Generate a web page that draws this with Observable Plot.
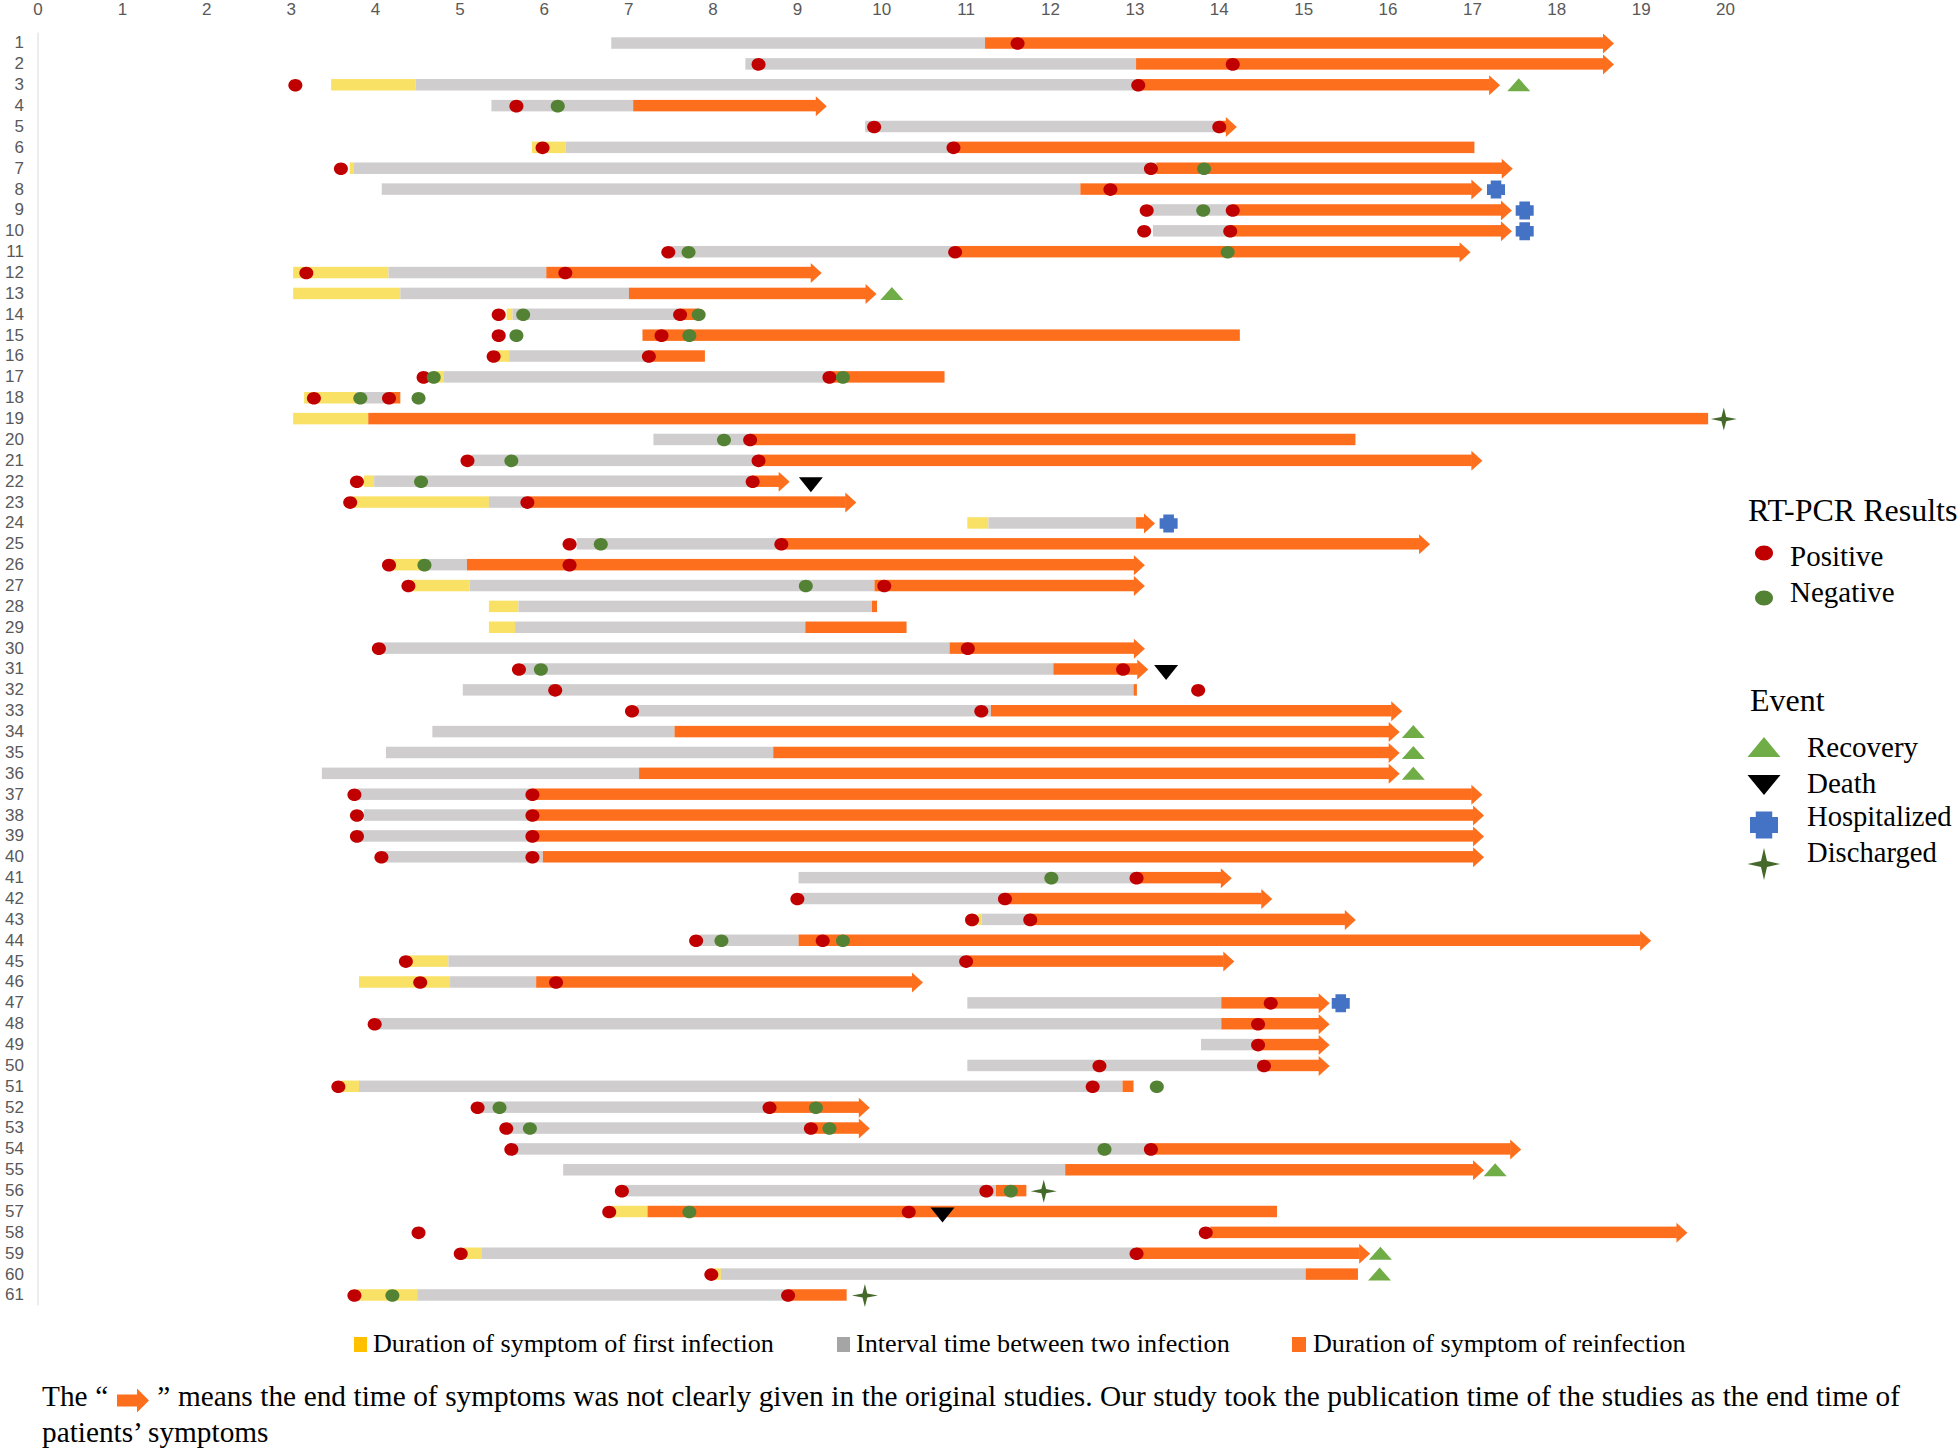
<!DOCTYPE html>
<html>
<head>
<meta charset="utf-8">
<script src="https://cdn.jsdelivr.net/npm/d3@7"></script>
<script src="https://cdn.jsdelivr.net/npm/@observablehq/plot@0.6"></script>
<style>
  html, body { margin: 0; padding: 0; background: #fff; }
  #page { position: relative; width: 1960px; height: 1449px; overflow: hidden; font-family: "Liberation Serif", serif; color: #000; }
  #page svg.chart { position: absolute; left: 0; top: 0; }
  .t { position: absolute; white-space: nowrap; line-height: 1; transform: translateY(-50%); }
  .sq { position: absolute; }
  .sym { position: absolute; overflow: visible; }
  #cap1 { position: absolute; left: 42px; top: 1397px; width: 1858px; font-size: 29.3px; line-height: 1; transform: translateY(-50%); text-align: justify; text-align-last: justify; white-space: nowrap; }
  #cap1 svg { vertical-align: -7px; margin: 0 1px; }
</style>
</head>
<body>
<div id="page"></div>
<script>
const rows = d3.range(1, 62);
const xTicks = [0,1,2,3,4,5,6,7,8,9,10,11,12,13,14,15,16,17,18,19,20];

// [patient, start, end] in the chart's x units
const firstInfection = [[3,3.48,4.48],[6,5.86,6.26],[7,3.70,3.75],[12,3.03,4.16],[13,3.03,4.30],[14,5.56,5.63],[16,5.44,5.59],[17,4.70,4.81],[18,3.16,3.78],[19,3.03,3.92],[22,3.87,3.99],[23,3.72,5.35],[24,11.02,11.27],[26,4.20,4.56],[27,4.43,5.12],[28,5.35,5.70],[29,5.35,5.66],[43,11.15,11.19],[45,4.40,4.87],[46,3.81,4.89],[51,3.60,3.81],[57,6.80,7.23],[59,5.05,5.26],[60,8.02,8.10],[61,3.78,4.50]];

const interval = [[1,6.80,11.23],[2,8.39,13.02],[3,4.48,13.02],[4,5.38,7.06],[5,9.81,14.0],[6,6.26,10.85],[7,3.75,13.26],[8,4.08,12.36],[9,13.2,14.16],[10,13.22,14.13],[11,7.5,10.87],[12,4.16,6.03],[13,4.30,7.01],[14,5.63,7.63],[16,5.59,7.24],[17,4.81,9.38],[18,3.78,4.16],[20,7.30,8.44],[21,5.15,8.54],[22,3.99,8.47],[23,5.35,5.80],[24,11.27,13.02],[25,6.39,8.81],[26,4.56,5.09],[27,5.12,9.92],[28,5.70,9.89],[29,5.66,9.10],[30,4.06,10.81],[31,5.75,12.04],[32,5.04,12.99],[33,7.1,11.30],[34,4.68,7.55],[35,4.13,8.72],[36,3.37,7.13],[37,3.8,5.86],[38,3.87,5.86],[39,3.79,5.86],[40,4.1,5.99],[41,9.02,13.02],[42,9.05,11.46],[43,11.19,11.76],[44,7.85,9.02],[45,4.87,11.0],[46,4.89,5.91],[47,11.02,14.03],[48,4.03,14.03],[49,13.79,14.46],[50,11.02,14.53],[51,3.81,12.86],[52,5.26,8.67],[53,5.6,9.16],[54,5.65,13.19],[55,6.23,12.18],[56,6.97,11.36],[59,5.26,13.02],[60,8.10,15.03],[61,4.50,8.89]];

const reinfection = [[1,11.23,18.56],[2,13.02,18.56],[3,13.02,17.21],[4,7.06,9.23],[5,14.0,14.09],[6,10.85,17.03],[7,13.26,17.36],[8,12.36,17.0],[9,14.16,17.35],[10,14.13,17.35],[11,10.87,16.86],[12,6.03,9.17],[13,7.01,9.82],[14,7.63,7.84],[15,7.17,14.25],[16,7.24,7.91],[17,9.38,10.75],[18,4.16,4.30],[19,3.92,19.8],[20,8.44,15.62],[21,8.54,17.0],[22,8.47,8.79],[23,5.80,9.58],[24,13.02,13.12],[25,8.81,16.38],[26,5.09,13.0],[27,9.92,13.0],[28,9.89,9.95],[29,9.10,10.30],[30,10.81,13.0],[31,12.04,13.04],[32,12.99,13.03],[33,11.30,16.05],[34,7.55,16.02],[35,8.72,16.02],[36,7.13,16.02],[37,5.86,17.0],[38,5.86,17.02],[39,5.86,17.02],[40,5.99,17.02],[41,13.02,14.03],[42,11.46,14.51],[43,11.76,15.50],[44,9.02,19.0],[45,11.0,14.06],[46,5.91,10.37],[47,14.03,15.19],[48,14.03,15.19],[49,14.46,15.19],[50,14.53,15.19],[51,12.86,12.99],[52,8.67,9.74],[53,9.16,9.74],[54,13.19,17.46],[55,12.18,17.02],[56,11.36,11.72],[57,7.23,14.69],[58,13.9,19.43],[59,13.02,15.67],[60,15.03,15.65],[61,8.89,9.59]];

// patients whose reinfection bar ends with an arrow head
const arrowRows = [1,2,3,4,5,7,8,9,10,11,12,13,21,22,23,24,25,26,27,30,31,33,34,35,36,37,38,39,40,41,42,43,44,45,46,47,48,49,50,52,53,54,55,58,59];

// [patient, x]
const positive = [[1,11.61],[2,8.54],[2,14.16],[3,3.05],[3,13.04],[4,5.67],[5,9.91],[5,14.0],[6,5.98],[6,10.85],[7,3.59],[7,13.19],[8,12.71],[9,13.14],[9,14.16],[10,13.11],[10,14.13],[11,7.47],[11,10.87],[12,3.18],[12,6.25],[14,5.46],[14,7.61],[15,5.46],[15,7.39],[16,5.40],[16,7.24],[17,4.57],[17,9.38],[18,3.27],[18,4.16],[20,8.44],[21,5.09],[21,8.54],[22,3.78],[22,8.47],[23,3.70],[23,5.80],[25,6.30],[25,8.81],[26,4.16],[26,6.30],[27,4.39],[27,10.03],[30,4.04],[30,11.02],[31,5.70],[31,12.86],[32,6.13],[32,13.75],[33,7.04],[33,11.18],[37,3.75],[37,5.86],[38,3.78],[38,5.86],[39,3.78],[39,5.86],[40,4.07],[40,5.86],[41,13.02],[42,9.0],[42,11.46],[43,11.07],[43,11.76],[44,7.80],[44,9.30],[45,4.36],[45,11.0],[46,4.53],[46,6.14],[47,14.61],[48,3.99],[48,14.46],[49,14.46],[50,12.58],[50,14.53],[51,3.56],[51,12.50],[52,5.21],[52,8.67],[53,5.55],[53,9.16],[54,5.61],[54,13.19],[56,6.92],[56,11.24],[57,6.77],[57,10.32],[58,4.51],[58,13.84],[59,5.01],[59,13.02],[60,7.98],[61,3.75],[61,8.89]];

const negative = [[4,6.16],[7,13.82],[9,13.81],[11,7.71],[11,14.1],[14,5.75],[14,7.83],[15,5.67],[15,7.72],[17,4.69],[17,9.54],[18,3.82],[18,4.51],[20,8.13],[21,5.61],[22,4.54],[25,6.67],[26,4.58],[27,9.10],[31,5.96],[41,12.01],[44,8.10],[44,9.54],[51,13.26],[52,5.47],[52,9.22],[53,5.83],[53,9.38],[54,12.64],[56,11.53],[57,7.72],[61,4.20]];

const recovery = [[3,17.55],[13,10.12],[34,16.30],[35,16.30],[36,16.30],[55,17.27],[59,15.91],[60,15.90]];
const death = [[22,9.16],[31,13.37],[57,10.72]];
const hospitalized = [[8,17.28],[9,17.62],[10,17.62],[24,13.40],[47,15.44]];
const discharged = [[19,19.98],[56,11.92],[61,9.80]];

const colors = {first:"#F9E166", interval:"#CFCDCD", re:"#FD6F1D", pos:"#C00000", neg:"#548235", rec:"#70AD47", death:"#000000", hosp:"#4472C4", dis:"#44692B"};

// Custom symbols
const ellipse = (rx, ry) => ({draw(c) {
  const k = 0.5523;
  c.moveTo(-rx, 0);
  c.bezierCurveTo(-rx, -ry*k, -rx*k, -ry, 0, -ry);
  c.bezierCurveTo(rx*k, -ry, rx, -ry*k, rx, 0);
  c.bezierCurveTo(rx, ry*k, rx*k, ry, 0, ry);
  c.bezierCurveTo(-rx*k, ry, -rx, ry*k, -rx, 0);
  c.closePath();
}});
const poly = pts => ({draw(c) {
  pts.forEach(([x, y], i) => i ? c.lineTo(x, y) : c.moveTo(x, y));
  c.closePath();
}});
const tri = (w, h) => poly([[-w/2, h/2], [w/2, h/2], [0, -h/2]]);
const invTri = (w, h) => poly([[-w/2, -h/2], [w/2, -h/2], [0, h/2]]);
const plus = (w, h) => {
  const a = w/2, b = h/2, i = w/3.4, j = h/3.4;
  return poly([[-i,-b],[i,-b],[i,-j],[a,-j],[a,j],[i,j],[i,b],[-i,b],[-i,j],[-a,j],[-a,-j],[-i,-j]]);
};
const star = (w, h) => {
  const a = w/2, b = h/2, i = w/11, j = h/11;
  return poly([[0,-b],[i,-j],[a,0],[i,j],[0,b],[-i,j],[-a,0],[-i,-j]]);
};
const arrowHead = poly([[-1,-10],[10,0],[-1,10]]);

const bar = (data, fill) => Plot.barX(data, {x1: d => d[1], x2: d => d[2], y: d => d[0], fill, insetTop: 4.7, insetBottom: 4.7});
const pt = (data, symbol, fill, extra = {}) => Plot.dot(data, {x: d => d[1], y: d => d[0], symbol, fill, stroke: "none", ...extra});

const chart = Plot.plot({
  width: 1960,
  height: 1320,
  marginLeft: 37.5,
  marginRight: 235,
  marginTop: 32.6,
  marginBottom: 14.6,
  style: {background: "transparent", fontFamily: "'Liberation Sans Narrow', 'Liberation Sans', sans-serif", overflow: "visible"},
  className: "chart",
  x: {domain: [0, 20], axis: null},
  y: {type: "band", domain: rows, padding: 0, round: false, axis: null},
  marks: [
    Plot.axisX({anchor: "top", ticks: xTicks, tickSize: 0, tickPadding: 18, fontSize: 17, color: "#595959", label: null, tickFormat: d => d}),
    Plot.axisY({anchor: "left", tickSize: 0, tickPadding: 14, fontSize: 17, dy: -0.5, color: "#595959", label: null}),
    Plot.ruleX([0], {stroke: "#D9D9D9", strokeWidth: 1}),
    bar(firstInfection, colors.first),
    bar(interval, colors.interval),
    bar(reinfection, colors.re),
    pt(reinfection.filter(d => arrowRows.includes(d[0])).map(d => [d[0], d[2]]), arrowHead, colors.re),
    pt(positive, ellipse(7, 6.3), colors.pos),
    pt(negative, ellipse(7, 6.3), colors.neg),
    pt(recovery, tri(23, 13), colors.rec, {dy: -0.5}),
    pt(death, invTri(24, 15), colors.death, {dy: 3}),
    pt(hospitalized, plus(18, 18), colors.hosp, {dy: 0}),
    pt(discharged, star(26, 23), colors.dis)
  ]
});
const page = document.getElementById("page");
page.appendChild(chart);

// ---------- legends and caption (HTML around the SVG) ----------
function text(str, x, y, size) {
  const d = document.createElement("div");
  d.className = "t";
  d.textContent = str;
  d.style.left = x + "px"; d.style.top = y + "px"; d.style.fontSize = size + "px";
  page.appendChild(d);
  return d;
}
function square(x, y, w, h, fill) {
  const d = document.createElement("div");
  d.className = "sq";
  Object.assign(d.style, {left: x+"px", top: y+"px", width: w+"px", height: h+"px", background: fill});
  page.appendChild(d);
}
function symbolAt(sym, cx, cy, fill) {
  const ns = "http://www.w3.org/2000/svg";
  const s = document.createElementNS(ns, "svg");
  s.setAttribute("class", "sym");
  s.setAttribute("width", 1); s.setAttribute("height", 1);
  s.style.left = cx + "px"; s.style.top = cy + "px";
  const p = document.createElementNS(ns, "path");
  const path = d3.path(); sym.draw(path);
  p.setAttribute("d", path.toString()); p.setAttribute("fill", fill);
  s.appendChild(p);
  page.appendChild(s);
}

text("RT-PCR Results", 1748, 510, 32);
symbolAt(ellipse(9, 7.5), 1764, 553, colors.pos);
text("Positive", 1790, 556, 29);
symbolAt(ellipse(9, 7.5), 1764, 598, colors.neg);
text("Negative", 1790, 592, 29);
text("Event", 1750, 700, 32);
symbolAt(tri(33, 20), 1764, 747, colors.rec);
text("Recovery", 1807, 747, 29);
symbolAt(invTri(33, 20), 1764, 785, colors.death);
text("Death", 1807, 783, 29);
symbolAt(plus(28, 27), 1764, 825, colors.hosp);
text("Hospitalized", 1807, 817, 28.6);
symbolAt(star(33, 32), 1764, 864, colors.dis);
text("Discharged", 1807, 853, 28.6);

square(354, 1337, 13, 15, "#FFC000");
text("Duration of symptom of first infection", 373, 1344, 26.1);
square(837, 1337, 13, 15, "#A5A5A5");
text("Interval time between two infection", 856, 1344, 26.2);
square(1292, 1337, 14, 15, "#FD6F1D");
text("Duration of symptom of reinfection", 1313, 1344, 26.1);

const cap = document.createElement("div");
cap.id = "cap1";
cap.innerHTML = 'The “ <svg width="32" height="24" viewBox="0 0 32 24"><path d="M0 6H20V0L32 12L20 24V18H0Z" fill="#FD6F1D"/></svg> ” means the end time of symptoms was not clearly given in the original studies. Our study took the publication time of the studies as the end time of';
page.appendChild(cap);
text("patients’ symptoms", 42, 1433, 29.3);
</script>
</body>
</html>
